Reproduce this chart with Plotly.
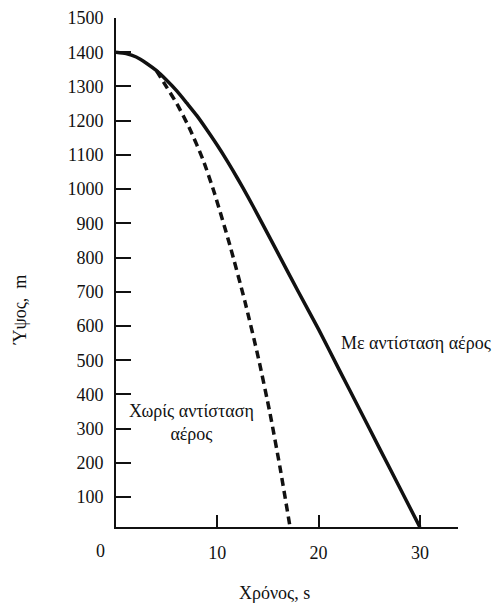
import plotly.graph_objects as go

# With air resistance (solid)
t_air = [0, 1, 2, 3, 4, 5, 6, 7, 8, 9, 10, 11, 12, 13, 14, 16, 18, 20, 22, 24, 26, 28, 30]
h_air = [1400, 1396, 1386, 1368, 1346, 1318, 1287, 1251, 1214, 1172, 1128, 1081, 1031, 979,
         924, 812, 700, 590, 474, 359, 243, 128, 12]

# Without air resistance (dashed)
t_free = [4.0, 5.0, 6.0, 7.3, 8.6, 9.7, 11.25, 12.73, 14.05, 15.2, 16.2, 17.25]
h_free = [1346, 1298, 1250, 1175, 1085, 990, 835, 671, 507, 345, 185, 0]

y_ticks = [100, 200, 300, 400, 500, 600, 700, 800, 900, 1000, 1100, 1200, 1300, 1400, 1500]
x_ticks = [10, 20, 30]

FONT = "Liberation Serif, 'Times New Roman', Times, 'DejaVu Serif', serif"
FS = 18
INK = "#111"

fig = go.Figure()
fig.add_trace(go.Scatter(x=t_free, y=h_free, mode="lines",
                         line=dict(color=INK, width=3.5, dash="8px,5px", shape="spline", smoothing=0.6),
                         showlegend=False, hoverinfo="skip"))
fig.add_trace(go.Scatter(x=t_air, y=h_air, mode="lines",
                         line=dict(color=INK, width=3.5, shape="spline", smoothing=0.6),
                         showlegend=False, hoverinfo="skip"))

# page body has an 8px default margin, so the figure is laid out 8px up/left
fig.update_layout(
    width=500, height=608,
    margin=dict(l=108, r=50, t=10, b=89),
    paper_bgcolor="white", plot_bgcolor="white",
    font=dict(family=FONT, size=FS, color=INK),
    showlegend=False,
)
fig.update_xaxes(range=[0, 33.76], showgrid=False, zeroline=False,
                 showline=True, linecolor=INK, linewidth=2,
                 ticks="inside", ticklen=12, tickwidth=1.5, tickcolor=INK,
                 tickvals=x_ticks, ticktext=[str(v) for v in x_ticks],
                 ticklabelstandoff=8, ticklabeloverflow="allow")
fig.update_yaxes(range=[12.5, 1500.05], showgrid=False, zeroline=False,
                 showline=True, linecolor=INK, linewidth=2,
                 ticks="inside", ticklen=15, tickwidth=2, tickcolor=INK,
                 tickvals=y_ticks, ticktext=[str(v) for v in y_ticks],
                 ticklabelstandoff=7, ticklabeloverflow="allow", automargin=False)

ann = [
    dict(text="0", x=-0.0447, y=-0.0466, xref="paper", yref="paper",
         xanchor="center", yanchor="middle", showarrow=False),
    dict(text="Χρόνος, s", x=0.462, y=-0.1297, xref="paper", yref="paper",
         xanchor="center", yanchor="middle", showarrow=False),
    dict(text="Ύψος,  m", x=-0.28, y=0.4263, xref="paper", yref="paper",
         xanchor="center", yanchor="middle", textangle=-90, showarrow=False),
    dict(text="Με αντίσταση αέρος", x=0.878, y=0.3615, xref="paper", yref="paper",
         xanchor="center", yanchor="middle", showarrow=False),
    dict(text="Χωρίς αντίσταση<br>αέρος", x=0.222, y=0.2053, xref="paper", yref="paper",
         xanchor="center", yanchor="middle", showarrow=False),
]
fig.update_layout(annotations=ann)

fig.write_html("out.html")
